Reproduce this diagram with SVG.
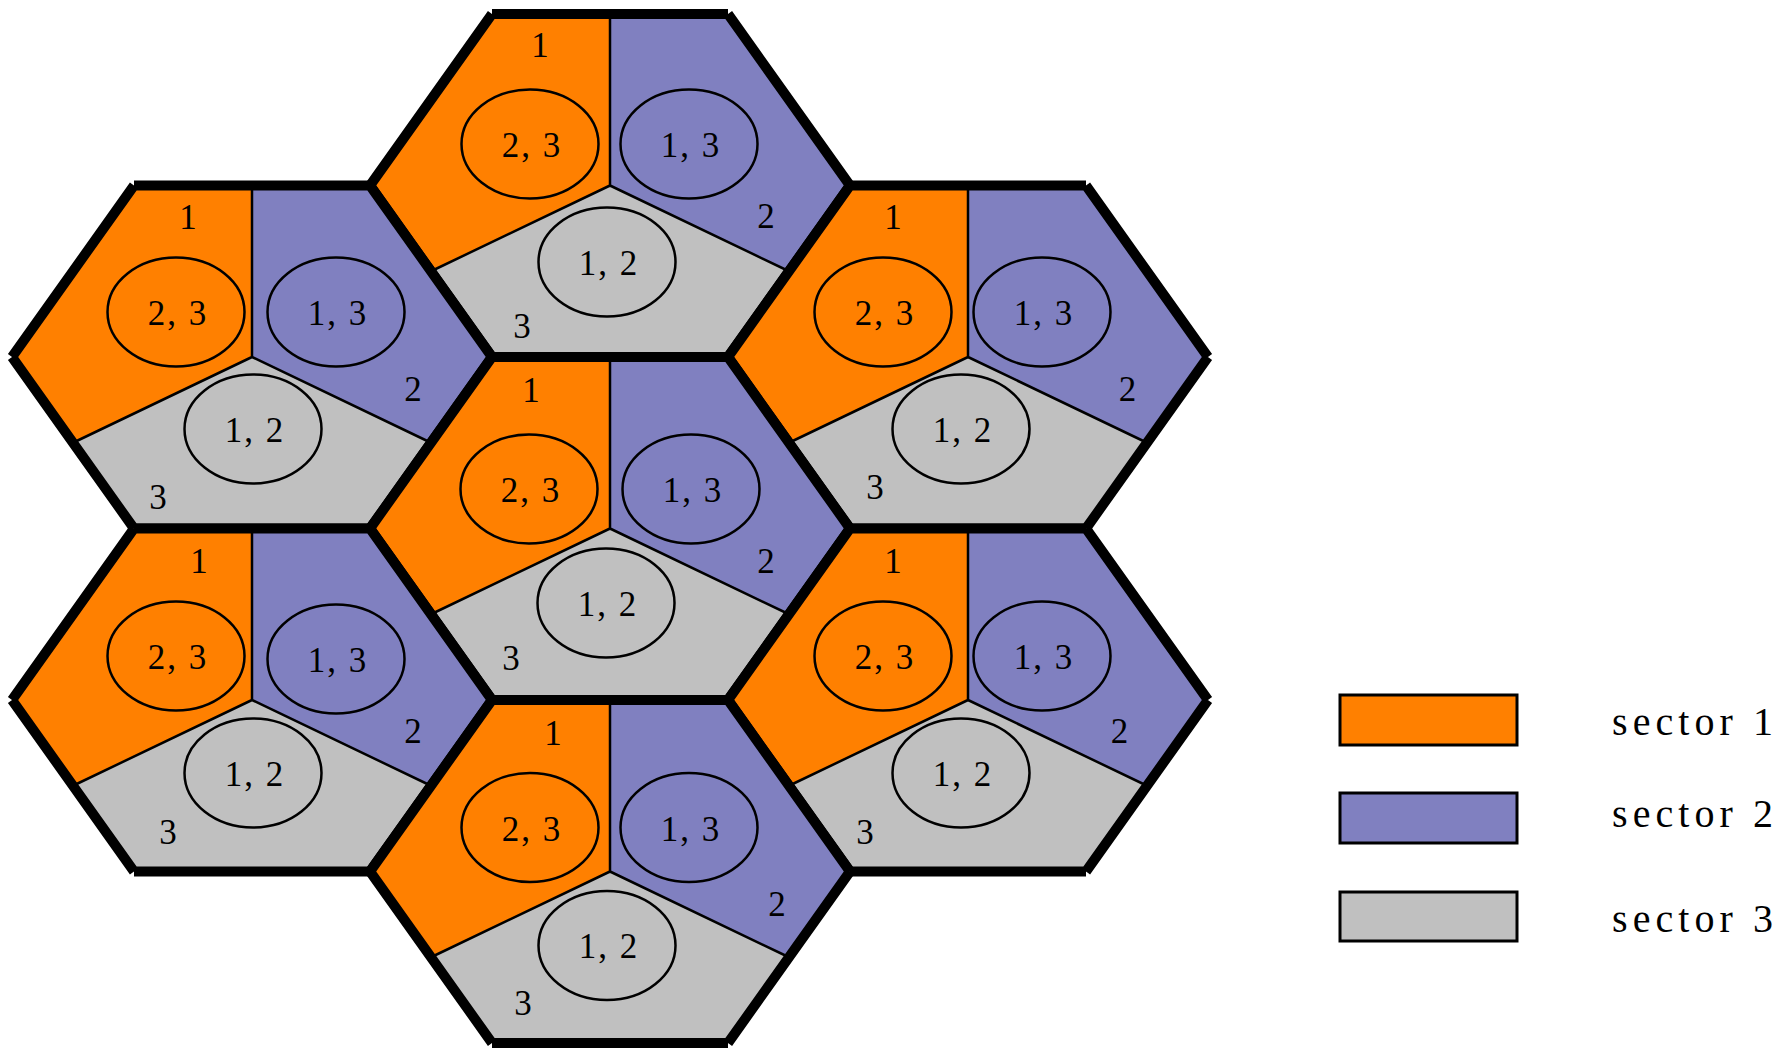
<svg xmlns="http://www.w3.org/2000/svg" xmlns:xlink="http://www.w3.org/1999/xlink" width="1784" height="1050" viewBox="0 0 1784 1050">
<style>
.o{fill:#ff8000}
.p{fill:#8080c0}
.g{fill:#c0c0c0}
.dv{fill:none;stroke:#000;stroke-width:2.5}
.brd{fill:none;stroke:#000;stroke-width:10;stroke-linecap:butt}
.el{stroke:#000;stroke-width:2.5}
.t{font-family:"Liberation Serif","DejaVu Serif",serif;font-size:35px;text-anchor:middle;fill:#000}
.et{letter-spacing:2px}
.lg{stroke:#000;stroke-width:3}
.lt{font-family:"Liberation Serif","DejaVu Serif",serif;font-size:40px;fill:#000}
</style>
<defs>
<path id="s1" d="M0,0 L0,-171.5 L-118,-171.5 L-240,0 L-179,85.75 Z"/>
<path id="s2" d="M0,0 L0,-171.5 L118,-171.5 L240,0 L179,85.75 Z"/>
<path id="s3" d="M0,0 L-179,85.75 L-118,171.5 L118,171.5 L179,85.75 Z"/>
<path id="dvp" d="M0,0 V-171.5 M0,0 L-179,85.75 M0,0 L179,85.75"/>
<path id="brdp" d="M-118,-171.5 L118,-171.5 M118,-171.5 L240,0 M240,0 L118,171.5 M118,171.5 L-118,171.5 M-118,171.5 L-240,0 M-240,0 L-118,-171.5"/>
</defs>

<g id="hex-top" transform="translate(610,185.5)">
<use href="#s1" class="o"/><use href="#s2" class="p"/><use href="#s3" class="g"/>
<use href="#dvp" class="dv"/>
<ellipse class="o el" cx="-80" cy="-41.5" rx="68.5" ry="54.5"/>
<ellipse class="p el" cx="79" cy="-41.5" rx="68.5" ry="54.5"/>
<ellipse class="g el" cx="-3" cy="76.5" rx="68.5" ry="54.5"/>
<text class="t et" x="-78" y="-28.5">2, 3</text>
<text class="t et" x="81" y="-28.5">1, 3</text>
<text class="t et" x="-1" y="89">1, 2</text>
<text class="t" x="-70" y="-128.5">1</text>
<text class="t" x="156" y="42">2</text>
<text class="t" x="-88" y="152.5">3</text>
<use href="#brdp" class="brd"/>
</g>

<g id="hex-upper-left" transform="translate(252,357)">
<use href="#s1" class="o"/><use href="#s2" class="p"/><use href="#s3" class="g"/>
<use href="#dvp" class="dv"/>
<ellipse class="o el" cx="-76" cy="-45" rx="68.5" ry="54.5"/>
<ellipse class="p el" cx="84" cy="-45" rx="68.5" ry="54.5"/>
<ellipse class="g el" cx="1" cy="72" rx="68.5" ry="54.5"/>
<text class="t et" x="-74" y="-32">2, 3</text>
<text class="t et" x="86" y="-32">1, 3</text>
<text class="t et" x="3" y="84.5">1, 2</text>
<text class="t" x="-64" y="-128.5">1</text>
<text class="t" x="161" y="43.5">2</text>
<text class="t" x="-94" y="151.5">3</text>
<use href="#brdp" class="brd"/>
</g>

<g id="hex-upper-right" transform="translate(968,357)">
<use href="#s1" class="o"/><use href="#s2" class="p"/><use href="#s3" class="g"/>
<use href="#dvp" class="dv"/>
<ellipse class="o el" cx="-85" cy="-45" rx="68.5" ry="54.5"/>
<ellipse class="p el" cx="74" cy="-45" rx="68.5" ry="54.5"/>
<ellipse class="g el" cx="-7" cy="72" rx="68.5" ry="54.5"/>
<text class="t et" x="-83" y="-32">2, 3</text>
<text class="t et" x="76" y="-32">1, 3</text>
<text class="t et" x="-5" y="84.5">1, 2</text>
<text class="t" x="-75" y="-128.5">1</text>
<text class="t" x="159.5" y="43.5">2</text>
<text class="t" x="-93" y="141.5">3</text>
<use href="#brdp" class="brd"/>
</g>

<g id="hex-middle" transform="translate(610,528.5)">
<use href="#s1" class="o"/><use href="#s2" class="p"/><use href="#s3" class="g"/>
<use href="#dvp" class="dv"/>
<ellipse class="o el" cx="-81" cy="-39.5" rx="68.5" ry="54.5"/>
<ellipse class="p el" cx="81" cy="-39.5" rx="68.5" ry="54.5"/>
<ellipse class="g el" cx="-4" cy="74.5" rx="68.5" ry="54.5"/>
<text class="t et" x="-79" y="-26.5">2, 3</text>
<text class="t et" x="83" y="-26.5">1, 3</text>
<text class="t et" x="-2" y="87">1, 2</text>
<text class="t" x="-79" y="-127">1</text>
<text class="t" x="156" y="44">2</text>
<text class="t" x="-99" y="141">3</text>
<use href="#brdp" class="brd"/>
</g>

<g id="hex-lower-left" transform="translate(252,700)">
<use href="#s1" class="o"/><use href="#s2" class="p"/><use href="#s3" class="g"/>
<use href="#dvp" class="dv"/>
<ellipse class="o el" cx="-76" cy="-44" rx="68.5" ry="54.5"/>
<ellipse class="p el" cx="84" cy="-41" rx="68.5" ry="54.5"/>
<ellipse class="g el" cx="1" cy="73" rx="68.5" ry="54.5"/>
<text class="t et" x="-74" y="-31">2, 3</text>
<text class="t et" x="86" y="-28">1, 3</text>
<text class="t et" x="3" y="85.5">1, 2</text>
<text class="t" x="-53" y="-127.5">1</text>
<text class="t" x="161" y="43">2</text>
<text class="t" x="-84" y="143.5">3</text>
<use href="#brdp" class="brd"/>
</g>

<g id="hex-lower-right" transform="translate(968,700)">
<use href="#s1" class="o"/><use href="#s2" class="p"/><use href="#s3" class="g"/>
<use href="#dvp" class="dv"/>
<ellipse class="o el" cx="-85" cy="-44" rx="68.5" ry="54.5"/>
<ellipse class="p el" cx="74" cy="-44" rx="68.5" ry="54.5"/>
<ellipse class="g el" cx="-7" cy="73" rx="68.5" ry="54.5"/>
<text class="t et" x="-83" y="-31">2, 3</text>
<text class="t et" x="76" y="-31">1, 3</text>
<text class="t et" x="-5" y="85.5">1, 2</text>
<text class="t" x="-75" y="-127.5">1</text>
<text class="t" x="151.5" y="43">2</text>
<text class="t" x="-103" y="143.5">3</text>
<use href="#brdp" class="brd"/>
</g>

<g id="hex-bottom" transform="translate(610,871.5)">
<use href="#s1" class="o"/><use href="#s2" class="p"/><use href="#s3" class="g"/>
<use href="#dvp" class="dv"/>
<ellipse class="o el" cx="-80" cy="-44" rx="68.5" ry="54.5"/>
<ellipse class="p el" cx="79" cy="-44" rx="68.5" ry="54.5"/>
<ellipse class="g el" cx="-3" cy="74" rx="68.5" ry="54.5"/>
<text class="t et" x="-78" y="-31">2, 3</text>
<text class="t et" x="81" y="-31">1, 3</text>
<text class="t et" x="-1" y="86.5">1, 2</text>
<text class="t" x="-57" y="-127">1</text>
<text class="t" x="167" y="44">2</text>
<text class="t" x="-87" y="143">3</text>
<use href="#brdp" class="brd"/>
</g>

<g id="legend">
<g id="legend-sector-1">
<rect class="o lg" x="1340" y="695" width="177" height="50"/>
<text class="lt" x="1612" y="735" textLength="161" lengthAdjust="spacing">sector 1</text>
</g>
<g id="legend-sector-2">
<rect class="p lg" x="1340" y="793" width="177" height="50"/>
<text class="lt" x="1612" y="827" textLength="161" lengthAdjust="spacing">sector 2</text>
</g>
<g id="legend-sector-3">
<rect class="g lg" x="1340" y="892" width="177" height="49"/>
<text class="lt" x="1612" y="932" textLength="161" lengthAdjust="spacing">sector 3</text>
</g>
</g>
</svg>
